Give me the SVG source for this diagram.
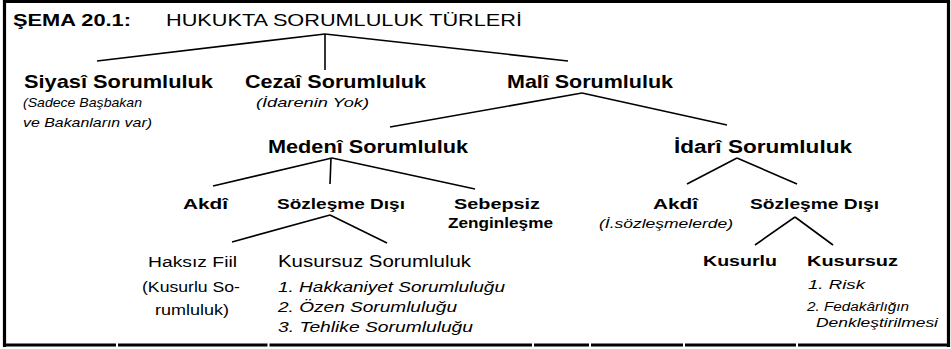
<svg xmlns="http://www.w3.org/2000/svg" width="951" height="349" viewBox="0 0 951 349">
<style>
text{font-family:"Liberation Sans",Arial,sans-serif;fill:#000}
.b{font-weight:bold}
.i{font-style:italic}
.ln line{stroke:#000;stroke-width:1.6}
.fr line{stroke:#000;stroke-width:3.2}
</style>
<rect width="951" height="349" fill="#fff"/>
<g class="fr">
<line x1="4.5" y1="0" x2="4.5" y2="347"/>
<line x1="3" y1="1.5" x2="950" y2="1.5"/>
<line x1="948.5" y1="0" x2="948.5" y2="347"/>
<line x1="3" y1="345" x2="116" y2="345"/>
<line x1="118" y1="345" x2="267.5" y2="345"/>
<line x1="269.5" y1="345" x2="532" y2="345"/>
<line x1="534" y1="345" x2="589" y2="345"/>
<line x1="591" y1="345" x2="683" y2="345"/>
<line x1="685" y1="345" x2="796" y2="345"/>
<line x1="798" y1="345" x2="950" y2="345"/>
</g>
<g id="title">
<text class="b" x="13" y="26" font-size="16.5" textLength="118" lengthAdjust="spacingAndGlyphs">ŞEMA 20.1:</text>
<text x="166" y="26" font-size="16.5" textLength="356" lengthAdjust="spacingAndGlyphs">HUKUKTA SORUMLULUK TÜRLERİ</text>
</g>
<g class="ln" id="connectors">
<line x1="325" y1="34" x2="97" y2="61"/>
<line x1="325" y1="34" x2="325" y2="70"/>
<line x1="325" y1="34" x2="568" y2="61"/>
<line x1="582" y1="93" x2="390" y2="127"/>
<line x1="582" y1="93" x2="727" y2="125"/>
<line x1="332" y1="158" x2="213" y2="186"/>
<line x1="331" y1="158" x2="330" y2="184"/>
<line x1="332" y1="158" x2="475" y2="189"/>
<line x1="737" y1="158" x2="687" y2="184"/>
<line x1="737" y1="158" x2="797" y2="184"/>
<line x1="330" y1="215" x2="232" y2="242"/>
<line x1="330" y1="215" x2="387" y2="243"/>
<line x1="795" y1="217" x2="755" y2="245"/>
<line x1="795" y1="217" x2="833" y2="245"/>
</g>
<g id="siyasi">
<text class="b" x="24" y="88" font-size="18.5" textLength="189" lengthAdjust="spacingAndGlyphs">Siyasî Sorumluluk</text>
<text class="i" x="23" y="107" font-size="13" textLength="119" lengthAdjust="spacingAndGlyphs">(Sadece Başbakan</text>
<text class="i" x="23" y="127" font-size="13" textLength="129" lengthAdjust="spacingAndGlyphs">ve Bakanların var)</text>
</g>
<g id="cezai">
<text class="b" x="245" y="88" font-size="18.5" textLength="181" lengthAdjust="spacingAndGlyphs">Cezaî Sorumluluk</text>
<text class="i" x="256" y="107" font-size="13" textLength="113" lengthAdjust="spacingAndGlyphs">(İdarenin Yok)</text>
</g>
<g id="mali">
<text class="b" x="507" y="88" font-size="18.5" textLength="166" lengthAdjust="spacingAndGlyphs">Malî Sorumluluk</text>
</g>
<g id="medeni">
<text class="b" x="268" y="153" font-size="17.5" textLength="200" lengthAdjust="spacingAndGlyphs">Medenî Sorumluluk</text>
</g>
<g id="idari">
<text class="b" x="674" y="153" font-size="17.5" textLength="178" lengthAdjust="spacingAndGlyphs">İdarî Sorumluluk</text>
</g>
<g id="akdi1">
<text class="b" x="183" y="209" font-size="15.5" textLength="45" lengthAdjust="spacingAndGlyphs">Akdî</text>
</g>
<g id="sozlesmedisi1">
<text class="b" x="277" y="209" font-size="15.5" textLength="128" lengthAdjust="spacingAndGlyphs">Sözleşme Dışı</text>
</g>
<g id="sebepsiz">
<text class="b" x="454" y="209" font-size="15.5" textLength="86" lengthAdjust="spacingAndGlyphs">Sebepsiz</text>
<text class="b" x="448" y="228" font-size="15.5" textLength="105" lengthAdjust="spacingAndGlyphs">Zenginleşme</text>
</g>
<g id="akdi2">
<text class="b" x="653" y="209" font-size="15.5" textLength="45" lengthAdjust="spacingAndGlyphs">Akdî</text>
<text class="i" x="599" y="228" font-size="12.5" textLength="134" lengthAdjust="spacingAndGlyphs">(İ.sözleşmelerde)</text>
</g>
<g id="sozlesmedisi2">
<text class="b" x="750" y="209" font-size="15.5" textLength="129" lengthAdjust="spacingAndGlyphs">Sözleşme Dışı</text>
</g>
<g id="haksizfiil">
<text x="148" y="267" font-size="15.5" textLength="89" lengthAdjust="spacingAndGlyphs">Haksız Fiil</text>
<text x="142" y="292" font-size="15.5" textLength="98" lengthAdjust="spacingAndGlyphs">(Kusurlu So-</text>
<text x="155" y="315" font-size="15.5" textLength="74" lengthAdjust="spacingAndGlyphs">rumluluk)</text>
</g>
<g id="kusursuzsorumluluk">
<text x="278" y="267" font-size="16" textLength="193" lengthAdjust="spacingAndGlyphs">Kusursuz Sorumluluk</text>
<text class="i" x="278" y="292" font-size="14.5" textLength="227" lengthAdjust="spacingAndGlyphs">1. Hakkaniyet Sorumluluğu</text>
<text class="i" x="278" y="312" font-size="14.5" textLength="179" lengthAdjust="spacingAndGlyphs">2. Özen Sorumluluğu</text>
<text class="i" x="278" y="332" font-size="14.5" textLength="195" lengthAdjust="spacingAndGlyphs">3. Tehlike Sorumluluğu</text>
</g>
<g id="kusurlu">
<text class="b" x="703" y="266" font-size="15.5" textLength="74" lengthAdjust="spacingAndGlyphs">Kusurlu</text>
</g>
<g id="kusursuz">
<text class="b" x="807" y="266" font-size="15.5" textLength="91" lengthAdjust="spacingAndGlyphs">Kusursuz</text>
<text class="i" x="808" y="289" font-size="13.5" textLength="57" lengthAdjust="spacingAndGlyphs">1. Risk</text>
<text class="i" x="807" y="311" font-size="12.5" textLength="102" lengthAdjust="spacingAndGlyphs">2. Fedakârlığın</text>
<text class="i" x="816" y="327" font-size="12.5" textLength="122" lengthAdjust="spacingAndGlyphs">Denkleştirilmesi</text>
</g>
</svg>
